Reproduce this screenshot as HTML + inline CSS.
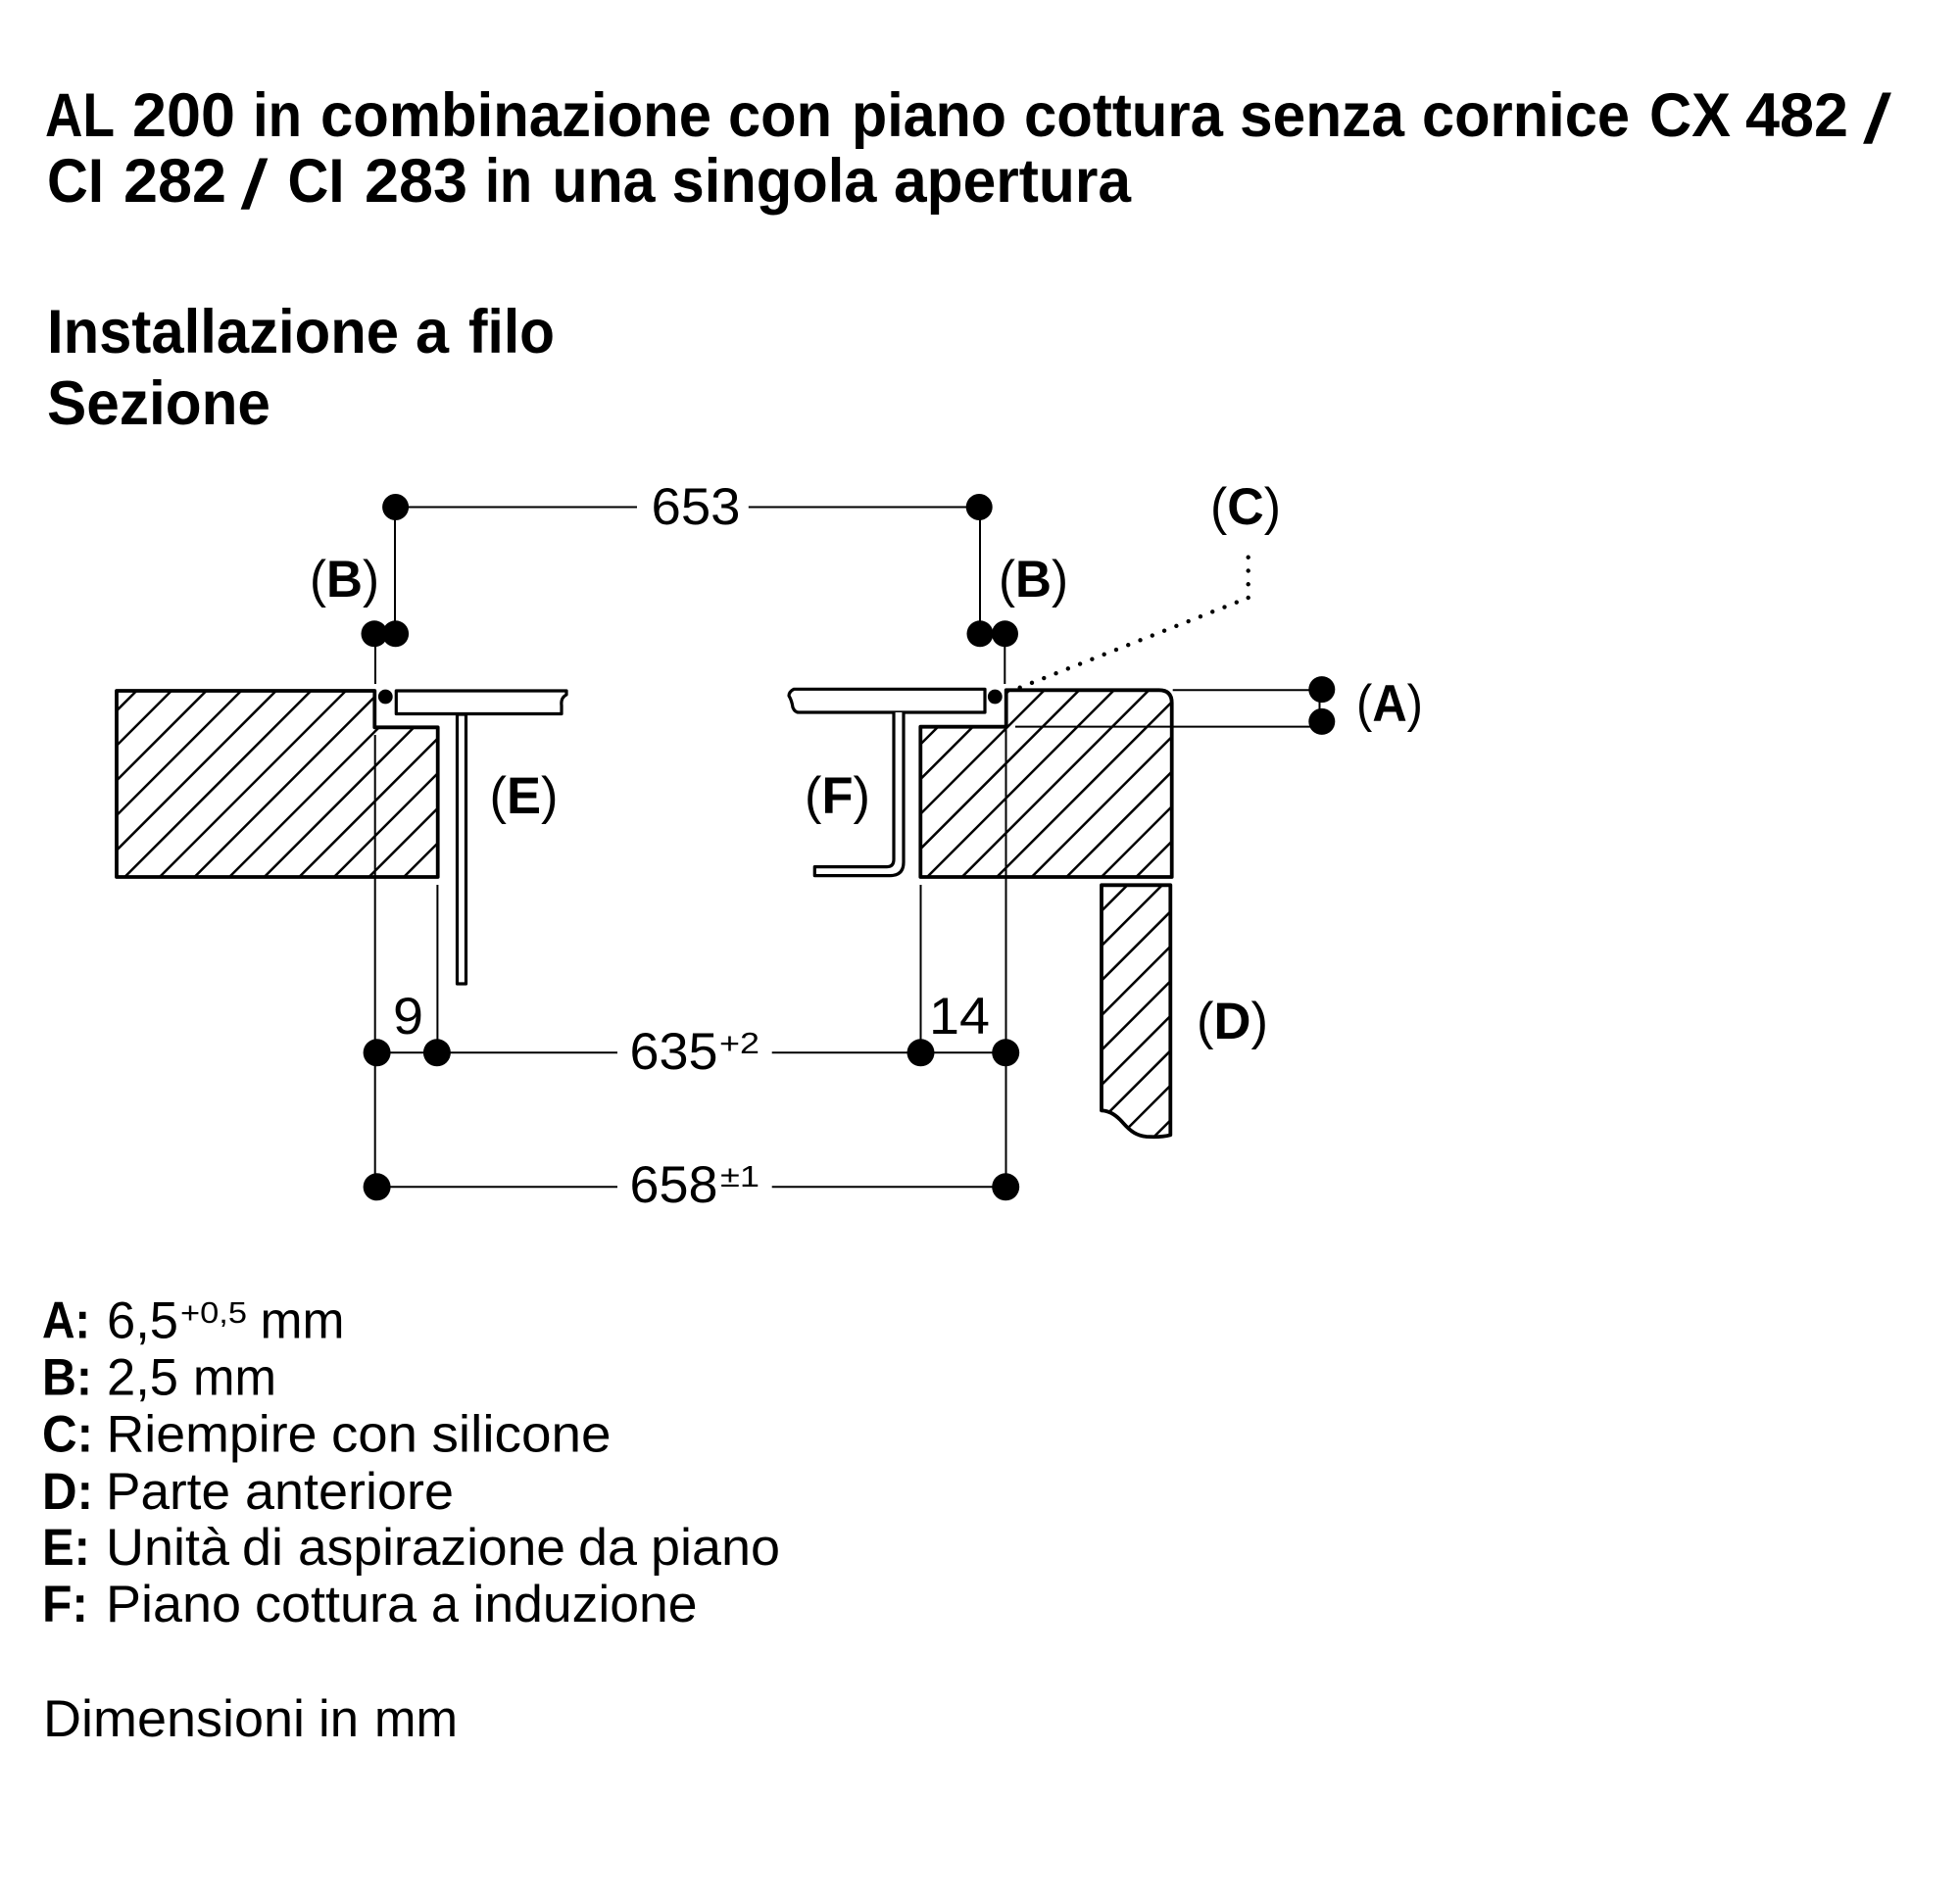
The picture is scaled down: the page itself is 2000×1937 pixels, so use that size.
<!DOCTYPE html>
<html lang="it">
<head>
<meta charset="utf-8">
<title>AL 200 Sezione</title>
<style>
html,body{margin:0;padding:0;background:#fff;width:2000px;height:1937px;overflow:hidden}
svg{display:block}
text{font-family:"Liberation Sans",sans-serif;fill:#000}
.h{font-size:63px;font-weight:700}
.sl{font-size:70px;font-weight:400;stroke:#000;stroke-width:1}
.l{font-size:53px}
.b{font-weight:700}
.s{font-size:31px}
.o{fill:none;stroke:#000;stroke-width:3.8;stroke-linejoin:round}
.t{fill:none;stroke:#000;stroke-width:2}
.p{fill:#fff;stroke:#000;stroke-width:3.2;stroke-linejoin:round}
.hatch{fill:none;stroke:#000;stroke-width:2.5}
</style>
</head>
<body>
<svg xmlns="http://www.w3.org/2000/svg" width="2000" height="1937" viewBox="0 0 2000 1937">
<rect width="2000" height="1937" fill="#fff"/>

<!-- headings -->
<text class="h" x="46" y="139" textLength="71" lengthAdjust="spacingAndGlyphs">AL</text>
<text class="h" x="135" y="139" textLength="105" lengthAdjust="spacingAndGlyphs">200</text>
<text class="h" x="258" y="139" textLength="50" lengthAdjust="spacingAndGlyphs">in</text>
<text class="h" x="327" y="139" textLength="399" lengthAdjust="spacingAndGlyphs">combinazione</text>
<text class="h" x="743" y="139" textLength="106" lengthAdjust="spacingAndGlyphs">con</text>
<text class="h" x="869" y="139" textLength="158" lengthAdjust="spacingAndGlyphs">piano</text>
<text class="h" x="1045" y="139" textLength="203" lengthAdjust="spacingAndGlyphs">cottura</text>
<text class="h" x="1265" y="139" textLength="168" lengthAdjust="spacingAndGlyphs">senza</text>
<text class="h" x="1451" y="139" textLength="212" lengthAdjust="spacingAndGlyphs">cornice</text>
<text class="h" x="1683" y="139" textLength="83" lengthAdjust="spacingAndGlyphs">CX</text>
<text class="h" x="1781" y="139" textLength="105" lengthAdjust="spacingAndGlyphs">482</text>
<text class="sl" x="1902" y="145.5" textLength="27" lengthAdjust="spacingAndGlyphs">/</text>

<text class="h" x="48" y="206" textLength="58" lengthAdjust="spacingAndGlyphs">CI</text>
<text class="h" x="126" y="206" textLength="105" lengthAdjust="spacingAndGlyphs">282</text>
<text class="sl" x="246.5" y="212.5" textLength="26" lengthAdjust="spacingAndGlyphs">/</text>
<text class="h" x="293.5" y="206" textLength="58" lengthAdjust="spacingAndGlyphs">CI</text>
<text class="h" x="372" y="206" textLength="105" lengthAdjust="spacingAndGlyphs">283</text>
<text class="h" x="495" y="206" textLength="48" lengthAdjust="spacingAndGlyphs">in</text>
<text class="h" x="563.5" y="206" textLength="105" lengthAdjust="spacingAndGlyphs">una</text>
<text class="h" x="685.5" y="206" textLength="209" lengthAdjust="spacingAndGlyphs">singola</text>
<text class="h" x="912" y="206" textLength="242" lengthAdjust="spacingAndGlyphs">apertura</text>

<text class="h" x="48" y="360" textLength="359" lengthAdjust="spacingAndGlyphs">Installazione</text>
<text class="h" x="424" y="360" textLength="34" lengthAdjust="spacingAndGlyphs">a</text>
<text class="h" x="478" y="360" textLength="88" lengthAdjust="spacingAndGlyphs">filo</text>
<text class="h" x="48" y="433" textLength="228" lengthAdjust="spacingAndGlyphs">Sezione</text>

<defs>
<clipPath id="c1"><path d="M119,705H382.3V742.3H446.7V895H119Z"/></clipPath>
<clipPath id="c2"><path d="M939.3,741.7H1026.7V704.3H1182.7Q1195.7,704.3 1195.7,717.3V895H939.3Z"/></clipPath>
<clipPath id="c3"><path d="M1124,903.3H1194.3V1158.3C1188,1160 1178,1160.5 1170,1160C1160,1159 1154,1155 1146,1146C1140,1139 1133,1133.5 1124,1133.3Z"/></clipPath>
</defs>

<!-- left block hatching -->
<path class="hatch" clip-path="url(#c1)" d="M154.3,690l-210,210M189.9,690l-210,210M225.5,690l-210,210M261.1,690l-210,210M296.7,690l-210,210M332.3,690l-210,210M367.9,690l-210,210M403.5,690l-210,210M439.1,690l-210,210M474.7,690l-210,210M510.3,690l-210,210M545.9,690l-210,210M581.5,690l-210,210M617.1,690l-210,210"/>
<path class="o" d="M119,705H382.3V742.3H446.7V895H119Z"/>

<!-- right block hatching -->
<path class="hatch" clip-path="url(#c2)" d="M1008.9,690l-210,210M1044.45,690l-210,210M1080,690l-210,210M1115.55,690l-210,210M1151.1,690l-210,210M1186.65,690l-210,210M1222.2,690l-210,210M1257.75,690l-210,210M1293.3,690l-210,210M1328.85,690l-210,210M1364.4,690l-210,210M1399.95,690l-210,210"/>
<path class="o" d="M939.3,895V741.7H1026.7V704.3H1182.7Q1195.7,704.3 1195.7,717.3V895Z"/>

<!-- front panel D -->
<path class="hatch" clip-path="url(#c3)" d="M1158.7,895l-60,60M1194.2,895l-80,80M1229.7,895l-120,120M1265.2,895l-160,160M1300.7,895l-200,200M1336.2,895l-240,240M1371.7,895l-280,280M1407.2,895l-300,300M1442.7,895l-300,300"/>
<path class="o" d="M1124,1133.3V903.3H1194.3V1158.3C1188,1160 1178,1160.5 1170,1160C1160,1159 1154,1155 1146,1146C1140,1139 1133,1133.5 1124,1133.3Z"/>

<!-- left cooktop + stem -->
<path class="p" d="M404.3,705H578V709Q572,712 573,720V728.5H404.3Z"/>
<rect class="p" x="466.5" y="729" width="9" height="275"/>

<!-- right cooktop + bracket -->
<path class="p" d="M1005,703.3H810Q805,706 805,710Q808,715 809,722Q811,727 815,727H1005Z"/>
<path class="p" d="M922,727V880Q922,893.6 908,893.6H831.3V884.6H905Q912,884.6 912,877V727"/>

<!-- dimension lines -->
<path class="t" d="M403.6,517.5H650M763.8,517.5H999.2"/>
<path class="t" d="M403,517.5V647M1000,517.5V647"/>
<path class="t" d="M383,647V698M382.7,750V1211"/>
<path class="t" d="M1025.3,647V698M1026.5,742V1211"/>
<path class="t" d="M446.4,903V1074M939.5,903V1074"/>
<path class="t" d="M384.6,1074.3H630M787.7,1074.3H1026"/>
<path class="t" d="M384.6,1211.3H630M787.7,1211.3H1026"/>
<path class="t" d="M1196.7,704.3H1348M1036,741.6H1348M1346.5,704V736"/>

<!-- dotted leader -->
<path d="M1040.7,701.7L1273.7,610" fill="none" stroke="#000" stroke-width="4.4" stroke-linecap="round" stroke-dasharray="0 13.2"/>
<path d="M1273.7,610V555" fill="none" stroke="#000" stroke-width="4.4" stroke-linecap="round" stroke-dasharray="0 13.75"/>

<!-- dots -->
<g fill="#000">
<circle cx="403.6" cy="517.5" r="13.5"/>
<circle cx="999.2" cy="517.5" r="13.5"/>
<circle cx="382" cy="646.8" r="13.5"/>
<circle cx="403.6" cy="646.8" r="13.5"/>
<circle cx="1000" cy="646.8" r="13.5"/>
<circle cx="1025.5" cy="646.8" r="13.5"/>
<circle cx="393.3" cy="711" r="7.4"/>
<circle cx="1015.3" cy="711" r="7.4"/>
<circle cx="1348.8" cy="703.6" r="13.5"/>
<circle cx="1348.8" cy="736.4" r="13.5"/>
<circle cx="384.6" cy="1074.3" r="14"/>
<circle cx="445.9" cy="1074.3" r="14"/>
<circle cx="939.5" cy="1074.3" r="14"/>
<circle cx="1026.2" cy="1074.3" r="14"/>
<circle cx="384.6" cy="1211.3" r="14"/>
<circle cx="1026.2" cy="1211.3" r="14"/>
</g>

<!-- diagram labels -->
<text class="l" x="664.5" y="535" textLength="91" lengthAdjust="spacingAndGlyphs">653</text>
<text class="l" x="316" y="609" textLength="71" lengthAdjust="spacingAndGlyphs">(<tspan class="b">B</tspan>)</text>
<text class="l" x="1019" y="609" textLength="71" lengthAdjust="spacingAndGlyphs">(<tspan class="b">B</tspan>)</text>
<text class="l" x="1235" y="535" textLength="72" lengthAdjust="spacingAndGlyphs">(<tspan class="b">C</tspan>)</text>
<text class="l" x="1384" y="736" textLength="68" lengthAdjust="spacingAndGlyphs">(<tspan class="b">A</tspan>)</text>
<text class="l" x="499.5" y="830" textLength="70" lengthAdjust="spacingAndGlyphs">(<tspan class="b">E</tspan>)</text>
<text class="l" x="821" y="830" textLength="67" lengthAdjust="spacingAndGlyphs">(<tspan class="b">F</tspan>)</text>
<text class="l" x="1221" y="1060" textLength="73" lengthAdjust="spacingAndGlyphs">(<tspan class="b">D</tspan>)</text>
<text class="l" x="401" y="1055" textLength="31" lengthAdjust="spacingAndGlyphs">9</text>
<text class="l" x="948" y="1055" textLength="62" lengthAdjust="spacingAndGlyphs">14</text>
<text class="l" x="642.5" y="1091" textLength="90" lengthAdjust="spacingAndGlyphs">635</text>
<text class="s" x="734" y="1075" textLength="41" lengthAdjust="spacingAndGlyphs">+2</text>
<text class="l" x="642.5" y="1227" textLength="90" lengthAdjust="spacingAndGlyphs">658</text>
<text class="s" x="735" y="1211" textLength="40" lengthAdjust="spacingAndGlyphs">±1</text>

<!-- legend -->
<text class="l b" x="43" y="1365.5" textLength="49" lengthAdjust="spacingAndGlyphs">A:</text>
<text class="l" x="109" y="1365.5" textLength="73" lengthAdjust="spacingAndGlyphs">6,5</text>
<text class="s" x="184" y="1350" textLength="68" lengthAdjust="spacingAndGlyphs">+0,5</text>
<text class="l" x="265.5" y="1365.5" textLength="86" lengthAdjust="spacingAndGlyphs">mm</text>

<text class="l b" x="43" y="1423.5" textLength="51" lengthAdjust="spacingAndGlyphs">B:</text>
<text class="l" x="109" y="1423.5" textLength="73" lengthAdjust="spacingAndGlyphs">2,5</text>
<text class="l" x="197" y="1423.5" textLength="85" lengthAdjust="spacingAndGlyphs">mm</text>

<text class="l b" x="43" y="1481.7" textLength="52" lengthAdjust="spacingAndGlyphs">C:</text>
<text class="l" x="108.5" y="1481.7" textLength="215" lengthAdjust="spacingAndGlyphs">Riempire</text>
<text class="l" x="338" y="1481.7" textLength="88" lengthAdjust="spacingAndGlyphs">con</text>
<text class="l" x="440.5" y="1481.7" textLength="183" lengthAdjust="spacingAndGlyphs">silicone</text>

<text class="l b" x="43" y="1540" textLength="52" lengthAdjust="spacingAndGlyphs">D:</text>
<text class="l" x="108" y="1540" textLength="127" lengthAdjust="spacingAndGlyphs">Parte</text>
<text class="l" x="250" y="1540" textLength="213" lengthAdjust="spacingAndGlyphs">anteriore</text>

<text class="l b" x="43" y="1597" textLength="49" lengthAdjust="spacingAndGlyphs">E:</text>
<text class="l" x="108" y="1597" textLength="126" lengthAdjust="spacingAndGlyphs">Unità</text>
<text class="l" x="247" y="1597" textLength="42" lengthAdjust="spacingAndGlyphs">di</text>
<text class="l" x="304" y="1597" textLength="273" lengthAdjust="spacingAndGlyphs">aspirazione</text>
<text class="l" x="590" y="1597" textLength="60" lengthAdjust="spacingAndGlyphs">da</text>
<text class="l" x="664" y="1597" textLength="132" lengthAdjust="spacingAndGlyphs">piano</text>

<text class="l b" x="43" y="1655" textLength="47" lengthAdjust="spacingAndGlyphs">F:</text>
<text class="l" x="108" y="1655" textLength="138" lengthAdjust="spacingAndGlyphs">Piano</text>
<text class="l" x="260" y="1655" textLength="165" lengthAdjust="spacingAndGlyphs">cottura</text>
<text class="l" x="440" y="1655" textLength="28" lengthAdjust="spacingAndGlyphs">a</text>
<text class="l" x="482.5" y="1655" textLength="229" lengthAdjust="spacingAndGlyphs">induzione</text>

<text class="l" x="44" y="1772" textLength="267" lengthAdjust="spacingAndGlyphs">Dimensioni</text>
<text class="l" x="325" y="1772" textLength="41" lengthAdjust="spacingAndGlyphs">in</text>
<text class="l" x="382" y="1772" textLength="85" lengthAdjust="spacingAndGlyphs">mm</text>
</svg>
</body>
</html>
